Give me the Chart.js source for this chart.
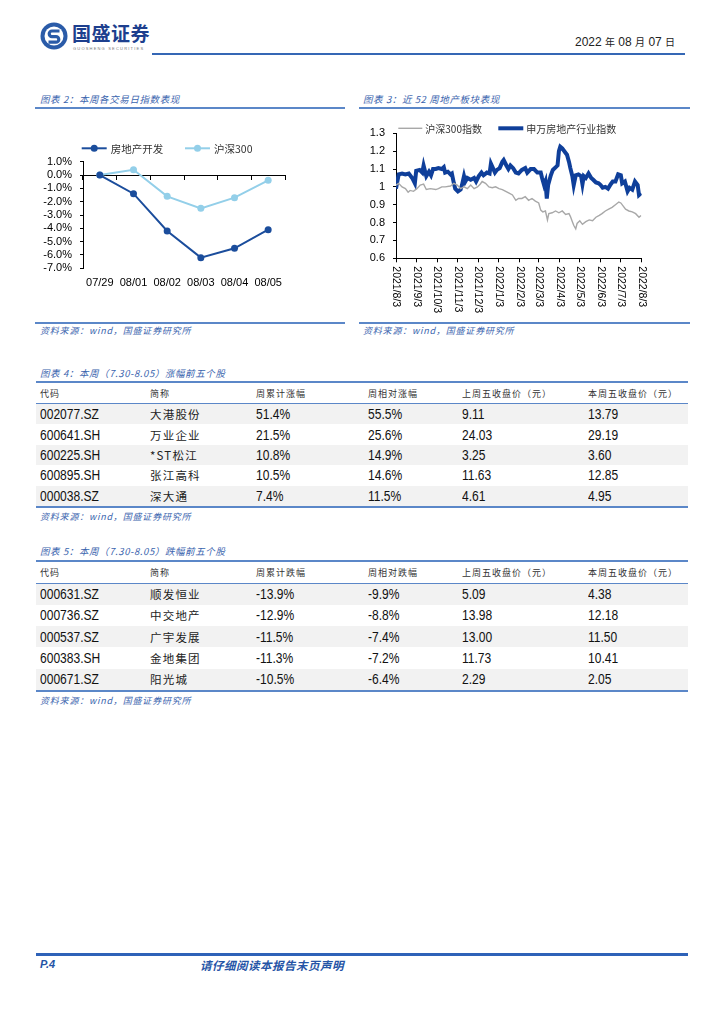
<!DOCTYPE html>
<html><head><meta charset="utf-8">
<script src="https://cdn.jsdelivr.net/npm/chart.js@4.4.1/dist/chart.umd.min.js"></script>
<style>
*{box-sizing:border-box}
body{margin:0;background:#fff;width:724px;height:1024px;position:relative;overflow:hidden;font-family:"Noto Sans CJK SC","Liberation Sans",sans-serif;color:#222}
.a{position:absolute}
.title{font-size:9.5px;font-style:italic;color:#3a64ae;letter-spacing:0.6px;line-height:12px;white-space:nowrap}
.src{font-size:9px;font-style:italic;color:#3a64ae;letter-spacing:0.8px;line-height:12px;white-space:nowrap}
.hl{height:2px;background:#5b87c8}
.tbl{position:absolute;left:36px;width:652px;border-top:2px solid #5b87c8;border-bottom:2px solid #5b87c8}
.row{display:flex;align-items:center}
.row>div{padding-left:4px;white-space:nowrap;overflow:hidden}
.hdr{border-bottom:1.5px solid #5b87c8;font-size:9px;color:#333;letter-spacing:1px}
.num{font-family:"Liberation Sans",sans-serif;font-size:14px;color:#111}
.num span{display:inline-block;transform:scaleX(0.86);transform-origin:left center}
.cn{font-size:11.5px;letter-spacing:1.2px;color:#222}
.shade{background:#f2f2f2}
</style></head>
<body>
<!-- header -->
<svg class="a" style="left:40px;top:22px" width="28" height="28" viewBox="0 0 28 28">
<circle cx="14" cy="14" r="13.5" fill="#2a5ba8"/>
<circle cx="14" cy="14" r="9.5" fill="#fff"/>
<path d="M19.5 9 H12 a2.8 2.8 0 0 0 0 5.6 h4 a2.8 2.8 0 0 1 0 5.6 H8.5" stroke="#2a5ba8" stroke-width="3.2" fill="none"/>
</svg>
<div class="a" style="left:72px;top:21px;font-size:19px;font-weight:bold;color:#1d3f8e;letter-spacing:0.5px;line-height:24px">国盛证券</div>
<div class="a" style="left:73px;top:46px;font-size:4px;color:#777;letter-spacing:1.2px;line-height:5px;font-family:'Liberation Sans'">GUOSHENG SECURITIES</div>
<div class="a" style="left:575px;top:34px;font-size:12px;line-height:16px;color:#222;white-space:nowrap;font-family:'Liberation Sans'">2022 <span style="font-family:'Noto Sans CJK SC';font-size:10px">年</span> 08 <span style="font-family:'Noto Sans CJK SC';font-size:10px">月</span> 07 <span style="font-family:'Noto Sans CJK SC';font-size:10px">日</span></div>
<div class="a hl" style="left:152px;top:53px;width:533px;background:#3567b5"></div>

<!-- chart titles -->
<div class="a title" style="left:40px;top:93px">图表 2：本周各交易日指数表现</div>
<div class="a hl" style="left:35px;top:107px;width:310px"></div>
<div class="a title" style="left:363px;top:93px">图表 3：近 52 周地产板块表现</div>
<div class="a hl" style="left:359px;top:107px;width:331px"></div>

<canvas id="c1" class="a" style="left:36px;top:110px" width="310" height="200"></canvas>
<canvas id="c2" class="a" style="left:360px;top:110px" width="330" height="210"></canvas>

<div class="a hl" style="left:35px;top:322px;width:310px"></div>
<div class="a src" style="left:40px;top:325px">资料来源：wind，国盛证券研究所</div>
<div class="a hl" style="left:359px;top:322px;width:331px"></div>
<div class="a src" style="left:363px;top:325px">资料来源：wind，国盛证券研究所</div>

<!-- table 4 -->
<div class="a title" style="left:40px;top:367px">图表 4：本周（7.30-8.05）涨幅前五个股</div>
<div class="tbl" id="t4" style="top:381px"></div>
<div class="a src" style="left:40px;top:511px">资料来源：wind，国盛证券研究所</div>

<!-- table 5 -->
<div class="a title" style="left:40px;top:545px">图表 5：本周（7.30-8.05）跌幅前五个股</div>
<div class="tbl" id="t5" style="top:560px"></div>
<div class="a src" style="left:40px;top:695px">资料来源：wind，国盛证券研究所</div>

<!-- footer -->
<div class="a" style="left:36px;top:953px;width:652px;height:3px;background:#2e62b8"></div>
<div class="a" style="left:40px;top:958px;font-size:11px;font-weight:bold;font-style:italic;color:#2554a6;font-family:'Liberation Sans'">P.4</div>
<div class="a" style="left:200px;top:957px;font-size:11.5px;font-weight:bold;font-style:italic;color:#2554a6;letter-spacing:0.5px">请仔细阅读本报告末页声明</div>

<script>
// ---------- data ----------
const weekDays = ['07/29','08/01','08/02','08/03','08/04','08/05'];
const realEstateDev = [0, -1.4, -4.2, -6.2, -5.5, -4.1];
const hs300Week = [0, 0.4, -1.6, -2.5, -1.7, -0.4];

const monthTickDays = [0,31,61,92,122,153,184,212,243,273,304,334,365];
const monthTickLabels = ['2021/8/3','2021/9/3','2021/10/3','2021/11/3','2021/12/3','2022/1/3','2022/2/3','2022/3/3','2022/4/3','2022/5/3','2022/6/3','2022/7/3','2022/8/3'];
const yTicks52 = [0.6,0.7,0.8,0.9,1.0,1.1,1.2,1.3];

const hsDays = [0,4,9,14,18,21,26,31,36,41,45,51,59,63,68,73,81,86,91,96,101,106,111,116,121,125,128,133,138,143,148,153,158,163,168,173,178,182,187,192,197,202,207,212,215,218,222,225,227,232,237,242,247,252,257,259,262,264,267,269,273,277,282,287,292,297,302,306,311,316,321,326,331,334,337,341,346,351,356,361,364];
const hsValues = [1.01,1.02,1.0,0.99,0.97,0.98,0.975,0.99,1.01,1.015,0.985,0.99,0.985,0.99,1.0,1.0,1.005,1.02,1.01,0.99,1.0,0.99,1.01,0.99,1.0,1.015,1.03,1.02,1.0,0.995,1.0,0.99,0.985,0.975,0.965,0.955,0.925,0.935,0.935,0.945,0.925,0.935,0.92,0.91,0.87,0.86,0.865,0.815,0.85,0.855,0.865,0.855,0.865,0.845,0.85,0.835,0.805,0.785,0.765,0.795,0.81,0.79,0.805,0.815,0.81,0.83,0.84,0.85,0.865,0.875,0.885,0.9,0.915,0.91,0.895,0.875,0.865,0.86,0.85,0.83,0.84];

const swDays = [0,4,9,14,19,24,28,30,35,39,41,45,49,52,55,59,63,68,71,73,77,81,83,86,88,92,96,98,101,103,106,111,116,119,123,127,130,135,139,141,144,147,150,154,158,160,164,167,170,174,178,182,187,192,195,200,205,210,215,217,220,222,224,226,230,233,236,240,242,244,247,249,252,254,257,259,262,264,267,271,275,277,279,282,286,290,293,297,301,304,307,311,315,319,322,326,330,334,336,340,344,347,351,355,359,361,364];
const swValues = [0.99,1.07,1.075,1.07,1.075,1.05,1.02,1.09,1.095,1.08,1.12,1.06,1.085,1.065,1.1,1.1,1.105,1.1,1.11,1.08,1.085,1.07,1.075,1.02,0.99,0.975,0.985,1.01,1.06,1.03,1.05,1.04,1.05,1.03,1.06,1.08,1.065,1.08,1.075,1.13,1.105,1.08,1.095,1.105,1.14,1.15,1.12,1.1,1.12,1.105,1.08,1.075,1.095,1.105,1.08,1.1,1.1,1.08,1.08,1.05,1.01,1.03,0.935,1.01,1.065,1.095,1.105,1.12,1.2,1.225,1.215,1.205,1.19,1.18,1.14,1.105,1.06,1.01,1.065,1.07,1.06,1.015,1.06,1.05,1.075,1.05,1.04,1.025,1.02,1.01,0.995,1.0,0.99,1.015,1.03,1.03,1.07,1.065,1.02,1.03,0.975,0.995,0.985,1.03,1.01,0.955,0.965];

const gainHeaders = ['代码','简称','周累计涨幅','周相对涨幅','上周五收盘价（元）','本周五收盘价（元）'];
const gainCodes = ['002077.SZ','600641.SH','600225.SH','600895.SH','000038.SZ'];
const gainNames = ['大港股份','万业企业','*ST松江','张江高科','深大通'];
const gainCum = ['51.4%','21.5%','10.8%','10.5%','7.4%'];
const gainRel = ['55.5%','25.6%','14.9%','14.6%','11.5%'];
const gainPrev = ['9.11','24.03','3.25','11.63','4.61'];
const gainClose = ['13.79','29.19','3.60','12.85','4.95'];

const lossHeaders = ['代码','简称','周累计跌幅','周相对跌幅','上周五收盘价（元）','本周五收盘价（元）'];
const lossCodes = ['000631.SZ','000736.SZ','000537.SZ','600383.SH','000671.SZ'];
const lossNames = ['顺发恒业','中交地产','广宇发展','金地集团','阳光城'];
const lossCum = ['-13.9%','-12.9%','-11.5%','-11.3%','-10.5%'];
const lossRel = ['-9.9%','-8.8%','-7.4%','-7.2%','-6.4%'];
const lossPrev = ['5.09','13.98','13.00','11.73','2.29'];
const lossClose = ['4.38','12.18','11.50','10.41','2.05'];

// ---------- tables ----------
const colW = [110,106,112,94,126,104];
function buildTable(id, headers, cols, hdrH, rowH){
  const el = document.getElementById(id);
  let h = '<div class="row hdr" style="height:'+hdrH+'px">' + headers.map((t,i)=>'<div style="width:'+colW[i]+'px">'+t+'</div>').join('') + '</div>';
  for(let r=0;r<cols[0].length;r++){
    h += '<div class="row'+(r%2===0?' shade':'')+'" style="height:'+rowH+'px">' + cols.map((c,i)=>'<div class="'+(i===1?'cn':'num')+'" style="width:'+colW[i]+'px">'+(i===1?c[r]:'<span>'+c[r]+'</span>')+'</div>').join('') + '</div>';
  }
  el.innerHTML = h;
}
buildTable('t4', gainHeaders, [gainCodes,gainNames,gainCum,gainRel,gainPrev,gainClose], 21, 20.4);
buildTable('t5', lossHeaders, [lossCodes,lossNames,lossCum,lossRel,lossPrev,lossClose], 21.5, 21.3);

// ---------- plugins ----------
const lineLegend = {
  id:'lineLegend',
  afterDraw(chart, args, opts){
    const ctx = chart.ctx;
    (opts.items||[]).forEach((it,i)=>{
      const ds = chart.data.datasets[i];
      ctx.save();
      ctx.strokeStyle = ds.borderColor; ctx.lineWidth = ds.borderWidth;
      ctx.beginPath(); ctx.moveTo(it.x, it.y); ctx.lineTo(it.x+it.len, it.y); ctx.stroke();
      if (opts.dot){ ctx.fillStyle = ds.borderColor; ctx.beginPath(); ctx.arc(it.x+it.len/2, it.y, opts.dot, 0, Math.PI*2); ctx.fill(); }
      ctx.fillStyle = opts.color; ctx.font = opts.font; ctx.textBaseline='middle'; ctx.textAlign='left';
      ctx.fillText(ds.label, it.x+it.len+opts.gap, it.y+0.5);
      ctx.restore();
    });
  }
};
const rotLabels = {
  id:'rotLabels',
  afterDraw(chart, args, opts){
    const s = chart.scales.x, ctx = chart.ctx;
    ctx.save(); ctx.fillStyle = opts.color; ctx.font = opts.font; ctx.textAlign='left'; ctx.textBaseline='middle';
    s.ticks.forEach(t=>{
      const x = s.getPixelForValue(t.value);
      ctx.save(); ctx.translate(x, s.top + opts.offset); ctx.rotate(Math.PI/2); ctx.fillText(t.label, 0, 0); ctx.restore();
    });
    ctx.restore();
  }
};

Chart.defaults.font.family = '"Liberation Sans", Arial, sans-serif';
Chart.defaults.font.size = 11;
Chart.defaults.color = '#000';

// ---------- chart 2 ----------
new Chart(document.getElementById('c1'), {
  type:'line',
  data:{labels:weekDays, datasets:[
    {label:'房地产开发', data:realEstateDev, borderColor:'#1b4d9c', backgroundColor:'#1b4d9c', borderWidth:2, pointRadius:3.5, pointBorderWidth:0, pointBackgroundColor:'#1b4d9c', tension:0},
    {label:'沪深300', data:hs300Week, borderColor:'#93cfe9', backgroundColor:'#93cfe9', borderWidth:2, pointRadius:3.5, pointBorderWidth:0, pointBackgroundColor:'#93cfe9', tension:0}
  ]},
  plugins:[lineLegend],
  options:{
    responsive:false, animation:false, devicePixelRatio:1,
    layout:{padding:{left:0,right:61,top:51.7,bottom:11.7}},
    plugins:{legend:{display:false}, tooltip:{enabled:false},
      lineLegend:{items:[{x:45.7,y:38.3,len:25},{x:149,y:38.3,len:25}], dot:3.5, gap:4, font:'10.5px "Noto Sans CJK SC"', color:'#333'}},
    scales:{
      x:{type:'category', position:{y:0}, offset:true, grid:{display:true, offset:true, drawOnChartArea:false, tickLength:4, color:'#000', lineWidth:1}, border:{color:'#000', width:1}, ticks:{display:false}},
      x2:{type:'category', position:'bottom', offset:true, grid:{display:false, drawTicks:false}, border:{display:false}, ticks:{padding:8, font:{size:11}, color:'#000'}, afterFit:s=>{s.height=30;}},
      y:{min:-7, max:1, ticks:{stepSize:1, autoSkip:false, padding:8, callback:v=>v.toFixed(1)+'%', font:{size:11}}, grid:{drawOnChartArea:false, tickLength:3, color:'#000'}, border:{color:'#000'}, afterFit:s=>{s.width=47;}}
    }
  }
});

// ---------- chart 3 ----------
new Chart(document.getElementById('c2'), {
  type:'line',
  data:{datasets:[
    {label:'沪深300指数', data:hsDays.map((d,i)=>({x:d,y:hsValues[i]})), borderColor:'#a8a8a8', borderWidth:1.4, pointRadius:0, tension:0},
    {label:'申万房地产行业指数', data:swDays.map((d,i)=>({x:d,y:swValues[i]})), borderColor:'#0f3f9a', borderWidth:4, pointRadius:0, tension:0}
  ]},
  plugins:[lineLegend, rotLabels],
  options:{
    responsive:false, animation:false, devicePixelRatio:1,
    layout:{padding:{left:0,right:48.3,top:23.3,bottom:11.7}},
    plugins:{legend:{display:false}, tooltip:{enabled:false},
      lineLegend:{items:[{x:38.3,y:18.3,len:24},{x:138.3,y:18.3,len:25}], dot:0, gap:3, font:'10px "Noto Sans CJK SC"', color:'#333'},
      rotLabels:{offset:8, font:'10.5px "Liberation Sans"', color:'#000'}},
    scales:{
      x:{type:'linear', min:0, max:365,
        afterBuildTicks:s=>{ s.ticks = monthTickDays.map(v=>({value:v})); },
        ticks:{autoSkip:false, minRotation:90, maxRotation:90, color:'rgba(0,0,0,0)', callback:(v,i)=>monthTickLabels[i]},
        grid:{drawOnChartArea:false, tickLength:4, color:'#000'}, border:{color:'#000'},
        afterFit:s=>{s.height=50;}},
      y:{min:0.6, max:1.3,
        afterBuildTicks:s=>{ s.ticks = yTicks52.map(v=>({value:v})); },
        ticks:{padding:8, autoSkip:false, font:{size:11}, callback:v=>String(Math.round(v*10)/10)},
        grid:{drawOnChartArea:false, tickLength:3, color:'#000'}, border:{color:'#000'},
        afterFit:s=>{s.width=36;}}
    }
  }
});
</script>
</body></html>
